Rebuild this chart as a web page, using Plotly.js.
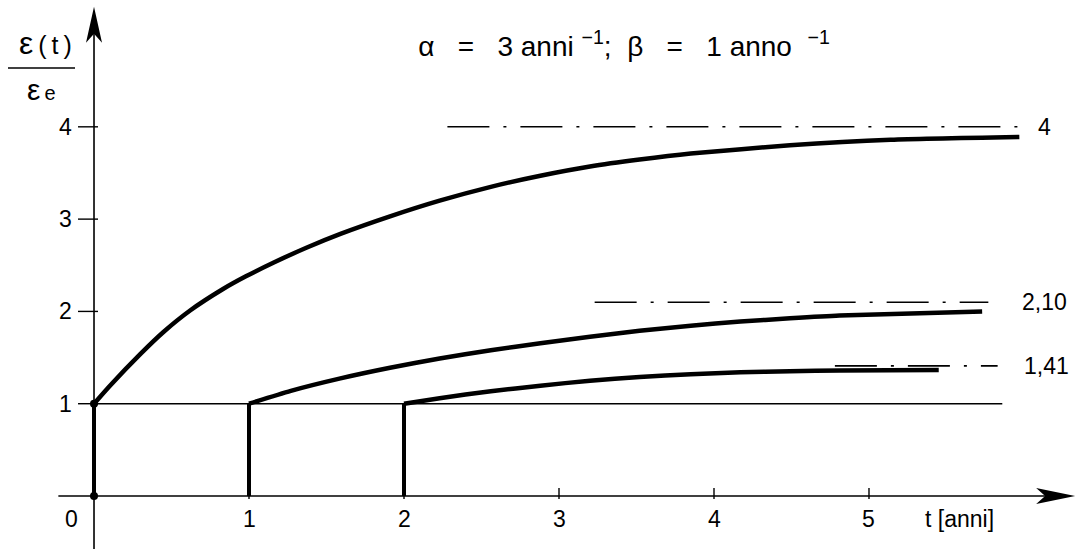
<!DOCTYPE html>
<html>
<head>
<meta charset="utf-8">
<script src="https://cdn.plot.ly/plotly-3.0.1.min.js"></script>
<style>html,body{margin:0;padding:0;background:#ffffff}</style>
</head>
<body>
<div id="chart" style="width:1077px;height:549px"></div>
<script>
// Creep ratio ε(t)/εe for a load applied at age t0 = 0, 1 and 2 years
const loadAges = [0, 1, 2];

const curve0T = [0, 0.10, 0.30, 0.45, 0.62, 0.83, 0.98, 1.16, 1.37, 1.59, 1.91, 2.23, 2.56, 2.88, 3.20, 3.52, 3.85, 4.49, 5.14, 5.97];
const curve0V = [1, 1.19, 1.54, 1.78, 2.01, 2.24, 2.38, 2.53, 2.69, 2.84, 3.03, 3.20, 3.35, 3.47, 3.57, 3.645, 3.71, 3.80, 3.86, 3.89];

const curve1T = [1, 1.27, 1.59, 1.91, 2.23, 2.56, 2.88, 3.20, 3.52, 3.85, 4.17, 4.49, 4.81, 5.73];
const curve1V = [1, 1.14, 1.275, 1.39, 1.49, 1.58, 1.655, 1.725, 1.79, 1.845, 1.89, 1.925, 1.955, 2.00];

const curve2T = [2, 2.23, 2.56, 2.88, 3.20, 3.52, 3.85, 4.17, 4.49, 4.81, 5.45];
const curve2V = [1, 1.06, 1.135, 1.195, 1.25, 1.29, 1.32, 1.34, 1.352, 1.36, 1.365];

// final values (asymptotes) and the stretch over which each is drawn
const finalValues = [4, 2.10, 1.41];
const finalLabels = ["4", "2,10", "1,41"];
const finalFrom = [2.28, 3.23, 4.78];
const finalTo = [5.97, 5.77, 5.83];

// axis ticks
const xTicks = [1, 2, 3, 4, 5];
const xTickLabels = ["1", "2", "3", "4", "5"];
const yTicks = [1, 2, 3, 4];
const yTickLabels = ["1", "2", "3", "4"];

const elasticLevel = 1;   // ε/εe at loading
const xMin = -0.6065, xMax = 6.342;
const yMin = -0.574, yMax = 5.374;
const xAxisEnd = 6.33, yAxisEnd = 5.30;
const xAxisStart = -0.23, yAxisStart = -0.6;

const ink = "#000000";
const font = "Liberation Sans, Arial, Helvetica, sans-serif";

const traces = [];

// axes
traces.push({x: [xAxisStart, xAxisEnd - 0.1], y: [0, 0], mode: "lines",
  line: {color: ink, width: 1.6}, hoverinfo: "skip", cliponaxis: false});
traces.push({x: [0, 0], y: [yAxisStart, yAxisEnd - 0.2], mode: "lines",
  line: {color: ink, width: 1.6}, hoverinfo: "skip", cliponaxis: false});

// elastic level line
traces.push({x: [0, 5.86], y: [elasticLevel, elasticLevel], mode: "lines",
  line: {color: ink, width: 1.4}, hoverinfo: "skip"});

// instantaneous elastic jumps at each loading age
loadAges.forEach(function (a) {
  traces.push({x: [a, a], y: [0, elasticLevel], mode: "lines",
    line: {color: ink, width: 4}, hoverinfo: "skip"});
});

// asymptotes (dash-dot)
finalValues.forEach(function (v, i) {
  traces.push({x: [finalFrom[i], finalTo[i]], y: [v, v], mode: "lines",
    line: {color: ink, width: 1.6, dash: "42px,14px,3px,14px"}, hoverinfo: "skip"});
});

// creep curves
[[curve0T, curve0V], [curve1T, curve1V], [curve2T, curve2V]].forEach(function (c) {
  traces.push({x: c[0], y: c[1], mode: "lines",
    line: {color: ink, width: 4.5, shape: "spline", smoothing: 0.6}, hoverinfo: "skip"});
});

// points at the origin and at the start of the first curve
traces.push({x: [0, 0], y: [0, elasticLevel], mode: "markers",
  marker: {color: ink, size: 8}, hoverinfo: "skip", cliponaxis: false});

const shapes = [];
// tick marks, crossing the axes
xTicks.forEach(function (t) {
  shapes.push({type: "line", xref: "x", yref: "y", ysizemode: "pixel", yanchor: 0,
    x0: t, x1: t, y0: -3, y1: 8, line: {color: ink, width: 1.4}});
});
yTicks.forEach(function (v) {
  shapes.push({type: "line", xref: "x", yref: "y", xsizemode: "pixel", xanchor: 0,
    x0: -16, x1: 4, y0: v, y1: v, line: {color: ink, width: 1.4}});
});
// arrowheads
shapes.push({type: "path", xref: "x", yref: "y", xsizemode: "pixel", ysizemode: "pixel",
  xanchor: 0, yanchor: yAxisEnd, path: "M0,0 L-8,-36 L0,-27 L8,-36 Z",
  fillcolor: ink, line: {width: 0}});
shapes.push({type: "path", xref: "x", yref: "y", xsizemode: "pixel", ysizemode: "pixel",
  xanchor: xAxisEnd, yanchor: 0, path: "M0,0 L-39,8 L-30,0 L-39,-8 Z",
  fillcolor: ink, line: {width: 0}});
// fraction bar of the ordinate label
shapes.push({type: "line", xref: "paper", yref: "paper",
  x0: 8 / 1077, x1: 75 / 1077, y0: 1 - 68 / 549, y1: 1 - 68 / 549,
  line: {color: ink, width: 1.6}});

const annotations = [];
const tickFont = {family: font, size: 23, color: ink};
xTicks.forEach(function (t, i) {
  annotations.push({x: t, y: 0, xref: "x", yref: "y", text: xTickLabels[i],
    showarrow: false, xanchor: "center", yanchor: "middle", yshift: -23, font: tickFont});
});
annotations.push({x: 0, y: 0, xref: "x", yref: "y", text: "0", showarrow: false,
  xanchor: "center", yanchor: "middle", xshift: -23, yshift: -23, font: tickFont});
yTicks.forEach(function (v, i) {
  annotations.push({x: 0, y: v, xref: "x", yref: "y", text: yTickLabels[i],
    showarrow: false, xanchor: "right", yanchor: "middle", xshift: -20, font: tickFont});
});
const labelShift = [17, 32, 24];
finalValues.forEach(function (v, i) {
  annotations.push({x: finalTo[i], y: v, xref: "x", yref: "y", text: finalLabels[i],
    showarrow: false, xanchor: "left", yanchor: "middle", xshift: labelShift[i],
    font: tickFont});
});
// axis titles
annotations.push({x: 5.35, y: 0, xref: "x", yref: "y", text: "t [anni]", showarrow: false,
  xanchor: "left", yanchor: "middle", yshift: -23, font: tickFont});
annotations.push({x: 45 / 1077, y: 1 - 43 / 549, xref: "paper", yref: "paper",
  text: "<span style='font-size:32px'>ε</span>\u2009(\u2009t\u2009)", showarrow: false,
  xanchor: "center", yanchor: "middle",
  font: {family: font, size: 25, color: ink}});
annotations.push({x: 41 / 1077, y: 1 - 89 / 549, xref: "paper", yref: "paper",
  text: "ε<span style='font-size:20px'>\u2009e</span>", showarrow: false,
  xanchor: "center", yanchor: "middle", font: {family: font, size: 30, color: ink}});

const sp = "\u00A0";
const layout = {
  width: 1077, height: 549,
  margin: {l: 0, r: 0, t: 0, b: 0},
  paper_bgcolor: "#ffffff", plot_bgcolor: "#ffffff",
  showlegend: false,
  title: {text: "α" + sp + sp + sp + "=" + sp + sp + sp + "3" + sp + "anni" + sp + "<sup>−1</sup>;" + sp + sp + "β" + sp + sp + sp + "=" + sp + sp + sp + "1" + sp + "anno" + sp + sp + "<sup>−1</sup>",
    x: 624 / 1077, xanchor: "center", y: 1 - 46 / 549, yanchor: "middle",
    font: {family: font, size: 28, color: ink}},
  xaxis: {range: [xMin, xMax], visible: false, fixedrange: true},
  yaxis: {range: [yMin, yMax], visible: false, fixedrange: true},
  shapes: shapes,
  annotations: annotations
};

Plotly.newPlot("chart", traces, layout, {staticPlot: true});
</script>
</body>
</html>
